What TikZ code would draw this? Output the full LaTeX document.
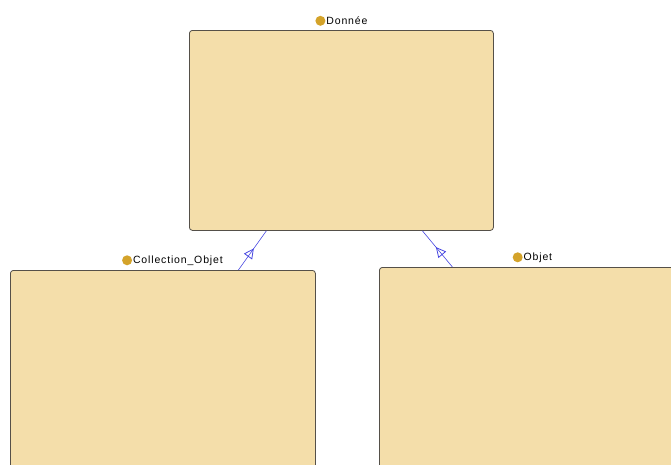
\documentclass[tikz,border=0pt]{standalone}
\usepackage{fontspec}
\setmainfont{Liberation Sans}[LetterSpace=8]
\usetikzlibrary{positioning,arrows.meta,decorations.markings}
\definecolor{boxfill}{HTML}{F4DEAA}
\definecolor{boxline}{HTML}{555049}
\definecolor{dotcol}{HTML}{D4A32A}
\definecolor{linkcol}{HTML}{4545E0}
\tikzset{
  classbox/.style={draw=boxline, fill=boxfill, thick, rounded corners=3pt, inner sep=0pt},
  classname/.style={font=\fontsize{10.5}{12}\selectfont, inner sep=1pt, text=black},
  inherit/.style={draw=linkcol, line width=0.6pt, postaction={decorate},
    decoration={markings, mark=at position 0.55 with {\arrow[linkcol, line width=0.8pt]{Triangle[open, length=10pt, width=10pt]}}}}
}
\newcommand{\classdot}{\tikz[baseline=-0.6ex]\fill[dotcol] (0,0) circle (5pt);\hspace{1pt}}
\begin{document}
\begin{tikzpicture}[x=1pt, y=-1pt]
  \useasboundingbox (0,0) rectangle (671,464);
  \clip (0,0) rectangle (671,464);

  % Classes
  \node[classbox, minimum width=304pt, minimum height=200pt, anchor=north west] (donnee) at (189,30) {};
  \node[classbox, minimum width=305pt, minimum height=230pt, anchor=north west] (coll) at (10,270) {};
  \node[classbox, minimum width=300pt, minimum height=230pt, anchor=north west] (objet) at (379,267) {};

  % Names
  \node[classname, above=3pt of donnee] (donneeT) {\classdot Donnée};
  \node[classname, above=3pt of coll, xshift=9.5pt] (collT) {\classdot Collection\_Objet};
  \node[classname, above=3pt of objet, xshift=3pt] (objetT) {\classdot Objet};

  % Generalisations
  \draw[inherit] ([xshift=75.5pt]coll.north) -- ([xshift=-75pt]donnee.south);
  \draw[inherit] ([xshift=-77pt]objet.north) -- ([xshift=81pt]donnee.south);
\end{tikzpicture}
\end{document}
